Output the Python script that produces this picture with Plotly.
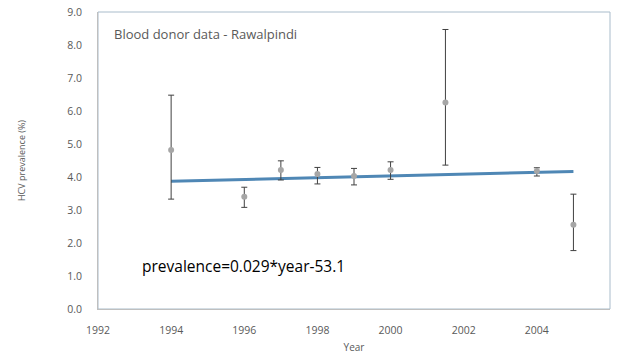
import plotly.graph_objects as go

years = [1994, 1996, 1997, 1998, 1999, 2000, 2001.5, 2004, 2005]
prevalence = [4.82, 3.40, 4.21, 4.09, 4.03, 4.21, 6.26, 4.18, 2.55]
upper = [6.48, 3.69, 4.49, 4.29, 4.26, 4.46, 8.47, 4.28, 3.48]
lower = [3.33, 3.08, 3.91, 3.79, 3.76, 3.93, 4.36, 4.03, 1.77]

trend_x = [1994, 2005]
trend_y = [3.87, 4.17]

x_ticks = [1992, 1994, 1996, 1998, 2000, 2002, 2004, 2006]

err_plus = [u - p for u, p in zip(upper, prevalence)]
err_minus = [p - l for p, l in zip(prevalence, lower)]

fig = go.Figure()
fig.add_trace(go.Scatter(
    x=trend_x, y=trend_y, mode="lines",
    line=dict(color="#4f87b5", width=3), showlegend=False))
fig.add_trace(go.Scatter(
    x=years, y=prevalence, mode="markers",
    marker=dict(color="#a6a6a6", size=6),
    error_y=dict(type="data", symmetric=False, array=err_plus, arrayminus=err_minus,
                 color="#404040", thickness=1, width=3),
    showlegend=False))

fig.add_annotation(x=0.028, y=0.925, xref="paper", yref="paper", xanchor="left", yanchor="middle",
                   text="Blood donor data - Rawalpindi", showarrow=False,
                   font=dict(family="Open Sans", size=13, color="#595959"))
fig.add_annotation(x=0.082, y=0.145, xref="paper", yref="paper", xanchor="left", yanchor="middle",
                   text="prevalence=0.029*year-53.1", showarrow=False,
                   font=dict(family="Open Sans", size=15.5, color="#000000"))

fig.update_layout(
    width=622, height=354,
    margin=dict(l=98, r=12, t=12, b=45),
    paper_bgcolor="white", plot_bgcolor="white",
    font=dict(family="Open Sans", color="#595959", size=10.5),
    shapes=[dict(type="rect", xref="paper", yref="paper", x0=0, y0=0, x1=1, y1=1,
                 line=dict(color="#a9bccb", width=1), layer="below")],
)
fig.update_xaxes(range=[1992, 2006], tickvals=x_ticks, showgrid=False, zeroline=False,
                 showline=True, linecolor="#bfbfbf", linewidth=1, automargin=False,
                 ticks="", ticklabelstandoff=11,
                 title=dict(text="Year", font=dict(size=10, color="#595959"), standoff=9))
fig.update_yaxes(range=[0, 9], dtick=1, tickformat=".1f", showgrid=False, zeroline=False,
                 showline=True, linecolor="#bfbfbf", linewidth=1, automargin=False,
                 ticks="", ticklabelstandoff=13,
                 title=dict(text="HCV prevalence (%)", font=dict(size=9, color="#595959"), standoff=39))

fig.write_html("out.html", config={"displayModeBar": False},
               post_script="document.body.style.margin='0';")
